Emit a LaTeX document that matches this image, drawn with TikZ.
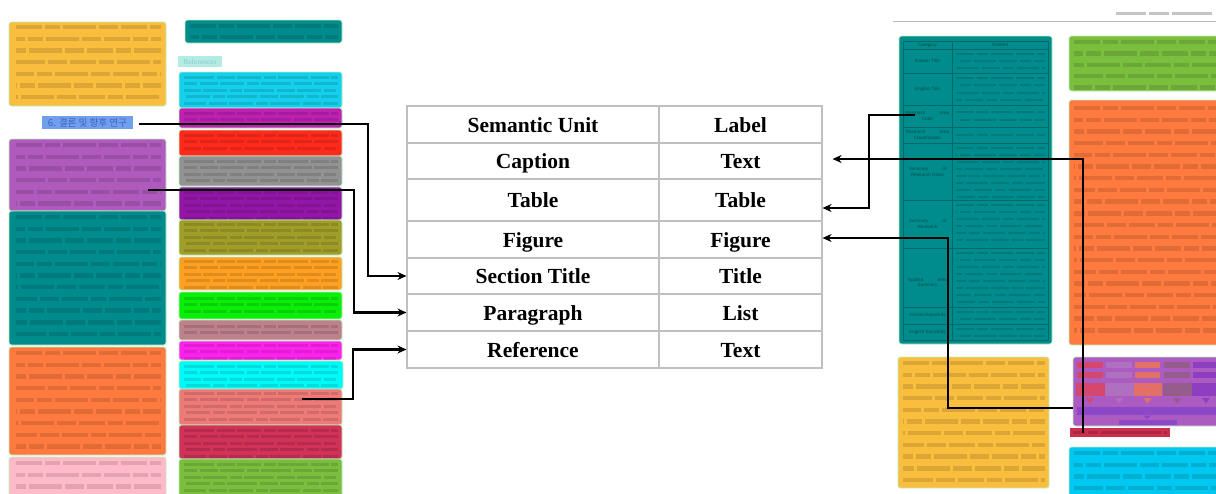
\documentclass[tikz,border=0pt]{standalone}
\usepackage{fontspec}
\setmainfont{Liberation Serif}
\newfontfamily\krfont{Noto Sans CJK KR}
\newfontfamily\lsans{Liberation Sans}
\usetikzlibrary{arrows.meta}

% page region colours
\definecolor{frame}{RGB}{190,238,190}
\definecolor{cYellow}{RGB}{250,190,62}
\definecolor{cTeal}{RGB}{0,140,140}
\definecolor{cRefLab}{RGB}{178,236,228}
\definecolor{cCyan}{RGB}{20,208,236}
\definecolor{cMagenta}{RGB}{190,32,178}
\definecolor{cRed}{RGB}{255,42,28}
\definecolor{cGray}{RGB}{146,146,146}
\definecolor{cViolet}{RGB}{148,22,168}
\definecolor{cOlive}{RGB}{160,158,40}
\definecolor{cLOrange}{RGB}{255,160,34}
\definecolor{cGreen}{RGB}{10,238,10}
\definecolor{cMauve}{RGB}{190,128,140}
\definecolor{cPink2}{RGB}{255,34,238}
\definecolor{cAqua}{RGB}{0,250,250}
\definecolor{cSalmon}{RGB}{238,122,120}
\definecolor{cCrimson}{RGB}{208,50,88}
\definecolor{cYGreen}{RGB}{122,190,62}
\definecolor{cBlue}{RGB}{112,160,236}
\definecolor{cOrchid}{RGB}{176,90,190}
\definecolor{cOrange}{RGB}{255,122,62}
\definecolor{cPink}{RGB}{255,186,200}
\definecolor{cFig}{RGB}{172,92,192}
\definecolor{cCap}{RGB}{206,46,78}
\definecolor{cSky}{RGB}{0,200,240}
\definecolor{labteal}{RGB}{0,78,78}
\definecolor{tline}{RGB}{0,104,104}
\definecolor{tblgray}{RGB}{192,192,192}
\definecolor{secblue}{RGB}{58,98,196}
\definecolor{fA}{RGB}{212,72,112}
\definecolor{fB}{RGB}{176,112,192}
\definecolor{fC}{RGB}{226,112,102}
\definecolor{fD}{RGB}{150,92,140}
\definecolor{fE}{RGB}{142,62,192}
\definecolor{fL}{RGB}{140,72,200}

% blurred lines of print inside the coloured regions
\newcommand\plines[6][txl]{%
  \foreach \k in {0,...,#6}{%
    \pgfmathsetmacro\ph{mod(\k*17,60)}%
    \draw[#1, dash phase=\ph pt] ({#2},{#4+\k*#5}) -- ({#3},{#4+\k*#5});}}

\tikzset{
  box/.style={rounded corners=2.5pt, draw=frame, line width=0.8pt},
  txl/.style={line width=4.4pt, draw=black, draw opacity=0.12,
    dash pattern=on 26pt off 3pt on 15pt off 3pt on 33pt off 3pt on 19pt off 3pt},
  rfl/.style={line width=3pt, draw=black, draw opacity=0.12,
    dash pattern=on 30pt off 2.5pt on 18pt off 2.5pt on 24pt off 2.5pt on 12pt off 2.5pt},
  tfl/.style={line width=2.2pt, draw=black, draw opacity=0.12,
    dash pattern=on 18pt off 3pt on 11pt off 3pt on 22pt off 3pt},
  cell/.style={draw=tblgray, line width=1.1pt, inner sep=0pt,
    text height=15pt, text depth=0pt,
    font=\fontsize{21.5}{24}\bfseries\selectfont},
  conn/.style={line width=2.3pt, draw=black, -{Stealth[length=9pt, width=8pt]}},
  lbl/.style={inner sep=0pt, font=\lsans\fontsize{4.6}{5.4}\selectfont,
    text=labteal, align=center},
  gridl/.style={draw=tline, line width=0.6pt},
}

\begin{document}
\begin{tikzpicture}[x=1pt, y=-1pt]
\useasboundingbox[fill=white] (0,0) rectangle (1216,493);

% ---------- left page ----------
\path[box, fill=cYellow]  (9,22) rectangle (166,106);
\plines{16}{161}{27}{11.7}{6}
\node[fill=cBlue, minimum width=91pt, minimum height=13pt, inner sep=0pt,
      text=secblue, font=\krfont\fontsize{9.6}{10}\selectfont] (sec) at (87.5,122.5) {6. 결론 및 향후 연구};
\path[box, fill=cOrchid]  (9,139) rectangle (166,211);
\plines{16}{161}{145}{11.7}{5}
\path[box, fill=cTeal]    (9,211) rectangle (166,345);
\plines{16}{161}{217}{11.7}{10}
\path[box, fill=cOrange]  (9,347) rectangle (166,455);
\plines{16}{161}{353}{11.7}{8}
\path[box, fill=cPink]    (9,457) rectangle (166,500);
\plines{16}{161}{463}{11.7}{2}

\path[box, fill=cTeal]    (185,20) rectangle (342,43);
\plines{190}{338}{26}{11}{1}
\node[fill=cRefLab, minimum width=44pt, minimum height=11pt, inner sep=0pt,
      text=cTeal!45, font=\fontsize{7.5}{8}\selectfont] (refs) at (200,61.5) {References};

\path[box, fill=cCyan]     (179,72) rectangle (342,108);
\plines[rfl]{184}{338}{77}{6.6}{4}
\path[box, fill=cMagenta]  (179,108) rectangle (342,128);
\plines[rfl]{184}{338}{113}{6.6}{1}
\path[box, fill=cRed]      (179,130) rectangle (342,156);
\plines[rfl]{184}{338}{135}{6.6}{2}
\path[box, fill=cGray]     (179,156) rectangle (342,186);
\plines[rfl]{184}{338}{161}{6.6}{3}
\path[box, fill=cViolet]   (179,187) rectangle (342,220);
\plines[rfl]{184}{338}{192}{6.6}{4}
\path[box, fill=cOlive]    (179,220) rectangle (342,255);
\plines[rfl]{184}{338}{224}{6.6}{4}
\path[box, fill=cLOrange]  (179,257) rectangle (342,290);
\plines[rfl]{184}{338}{261}{6.6}{4}
\path[box, fill=cGreen]    (179,292) rectangle (342,319);
\plines[rfl]{184}{338}{298}{6.6}{2}
\path[box, fill=cMauve]    (179,320) rectangle (342,340);
\plines[rfl]{184}{338}{326}{6.6}{1}
\path[box, fill=cPink2]    (179,341) rectangle (342,360);
\plines[rfl]{184}{338}{345}{6.6}{2}
\path[box, fill=cAqua]     (179,361) rectangle (343,389);
\plines[rfl]{184}{338}{366}{6.6}{3}
\path[box, fill=cSalmon]   (179,389) rectangle (342,425);
\plines[rfl]{184}{338}{393}{6.6}{4}
\path[box, fill=cCrimson]  (179,425) rectangle (342,459);
\plines[rfl]{184}{338}{430}{6.6}{4}
\path[box, fill=cYGreen]   (179,459) rectangle (342,500);
\plines[rfl]{184}{338}{464}{6.6}{4}

% ---------- right page ----------
\draw[gray!55, line width=0.9pt] (893,21) -- (1216,21);
\draw[line width=3pt, draw=gray, draw opacity=0.45,
      dash pattern=on 30pt off 3pt on 20pt off 3pt on 40pt off 3pt] (1116,13) -- (1213,13);

% table of record fields
\path[box, fill=cTeal] (899,36) rectangle (1052,344);
\draw[gridl] (903,41) rectangle (1048,340);
\draw[gridl] (952,41) -- (952,340);
\foreach \yy in {49,73,105,127,143,200,248,307,324}
  \draw[gridl] (903,\yy) -- (1048,\yy);
\node[lbl] (hcat) at (927.5,45) {Category};
\node[lbl] (hcon) at (1000,45) {Content};
\node[lbl] (rkt) at (927.5,61) {Korean Title};
\node[lbl] (ret) at (927.5,89) {English Title};
\node[lbl] (rac) at (927.5,116) {Research\hspace{14pt}Area\\Code};
\node[lbl] (racl) at (927.5,135) {Research\hspace{14pt}Area\\Classification};
\node[lbl] (rsg) at (927.5,172) {Summary\hspace{14pt}of\\Research Goals};
\node[lbl] (rsr) at (927.5,224) {Summary\hspace{14pt}of\\Research};
\node[lbl] (ras) at (927.5,283) {Applied\hspace{14pt}Area\\Summary};
\node[lbl] (rkk) at (927.5,315.5) {Korean Keywords};
\node[lbl] (rek) at (927.5,332) {English Keywords};
\plines[tfl]{956}{1045}{54}{7}{2}
\plines[tfl]{956}{1045}{78}{7.3}{3}
\plines[tfl]{956}{1045}{112}{8}{1}
\plines[tfl]{956}{1045}{135}{7}{0}
\plines[tfl]{956}{1045}{148}{7}{7}
\plines[tfl]{956}{1045}{205}{7}{5}
\plines[tfl]{956}{1045}{253}{7}{7}
\plines[tfl]{956}{1045}{312}{7}{1}
\plines[tfl]{956}{1045}{329}{7}{1}

\path[box, fill=cYGreen] (1069,36) rectangle (1222,91);
\plines{1074}{1216}{42}{11.4}{4}
\path[box, fill=cOrange] (1069,100) rectangle (1222,345);
\plines{1074}{1216}{108}{11.7}{19}
\path[box, fill=cYellow] (898,357) rectangle (1049,488);
\plines{903}{1045}{363}{11.7}{10}
\path[box, fill=cSky] (1069,447) rectangle (1222,500);
\plines{1074}{1216}{453}{11.7}{3}

% model diagram
\path[box, fill=cFig] (1073,357) rectangle (1222,426);
\foreach \xa/\xb/\cc in {1077/1103/fA, 1106/1132/fB, 1135/1160/fC, 1164/1190/fD, 1193/1219/fE}{
  \fill[\cc] (\xa,362) rectangle (\xb,367.5);
  \fill[\cc] (\xa,372) rectangle (\xb,378);
  \fill[\cc] (\xa-1.5,383) rectangle (\xb+1.5,396);
  \fill[\cc] ({(\xa+\xb)/2-4},398) -- ({(\xa+\xb)/2+4},398) -- ({(\xa+\xb)/2},403.5) -- cycle;
}
\fill[fL] (1077,407) rectangle (1219,415);
\fill[fL] (1143,415.5) -- (1151,415.5) -- (1147,419.5) -- cycle;
\fill[fL] (1119,420) rectangle (1177,425);
\fill[cCap] (1070,428) rectangle (1170,436.5);
\draw[line width=3pt, draw=black, draw opacity=0.16,
      dash pattern=on 12pt off 3pt on 10pt off 3pt on 60pt off 3pt] (1073,432) -- (1167,432);

% ---------- mapping table ----------
\node[cell, minimum width=252pt, minimum height=37pt] (suL) at (533,124.5) {Semantic Unit};
\node[cell, minimum width=163pt, minimum height=37pt] (suR) at (740.5,124.5) {Label};
\node[cell, minimum width=252pt, minimum height=36pt] (caL) at (533,161) {Caption};
\node[cell, minimum width=163pt, minimum height=36pt] (caR) at (740.5,161) {Text};
\node[cell, minimum width=252pt, minimum height=42pt] (tbL) at (533,200) {Table};
\node[cell, minimum width=163pt, minimum height=42pt] (tbR) at (740.5,200) {Table};
\node[cell, minimum width=252pt, minimum height=37pt] (fiL) at (533,239.5) {Figure};
\node[cell, minimum width=163pt, minimum height=37pt] (fiR) at (740.5,239.5) {Figure};
\node[cell, minimum width=252pt, minimum height=36pt] (stL) at (533,276) {Section Title};
\node[cell, minimum width=163pt, minimum height=36pt] (stR) at (740.5,276) {Title};
\node[cell, minimum width=252pt, minimum height=37pt] (paL) at (533,312.5) {Paragraph};
\node[cell, minimum width=163pt, minimum height=37pt] (paR) at (740.5,312.5) {List};
\node[cell, minimum width=252pt, minimum height=37pt] (reL) at (533,349.5) {Reference};
\node[cell, minimum width=163pt, minimum height=37pt] (reR) at (740.5,349.5) {Text};

% ---------- connectors ----------
\coordinate (a1) at (139,124);  \coordinate (k1) at (368,124);
\coordinate (a2) at (148,190);  \coordinate (k2) at (354,190);
\coordinate (a3) at (302,399);  \coordinate (k3) at (353,399);
\coordinate (b1) at (915,115);  \coordinate (m1) at (869,115);
\coordinate (b2) at (1083,433);
\coordinate (b3) at (1073,408); \coordinate (m3) at (948,408);

\draw[conn] (a1) -- (k1) |- (stL.west);
\draw[conn] (a2) -- (k2) |- (paL.west);
\draw[conn] (a3) -- (k3) |- (reL.west);
\draw[conn] (b1) -- (m1) |- ([yshift=-8pt]tbR.east);
\draw[conn, shorten >=10pt] (b2) |- ([yshift=2pt]caR.east);
\draw[conn] (b3) -- (m3) |- ([yshift=1.5pt]fiR.east);
\end{tikzpicture}
\end{document}
